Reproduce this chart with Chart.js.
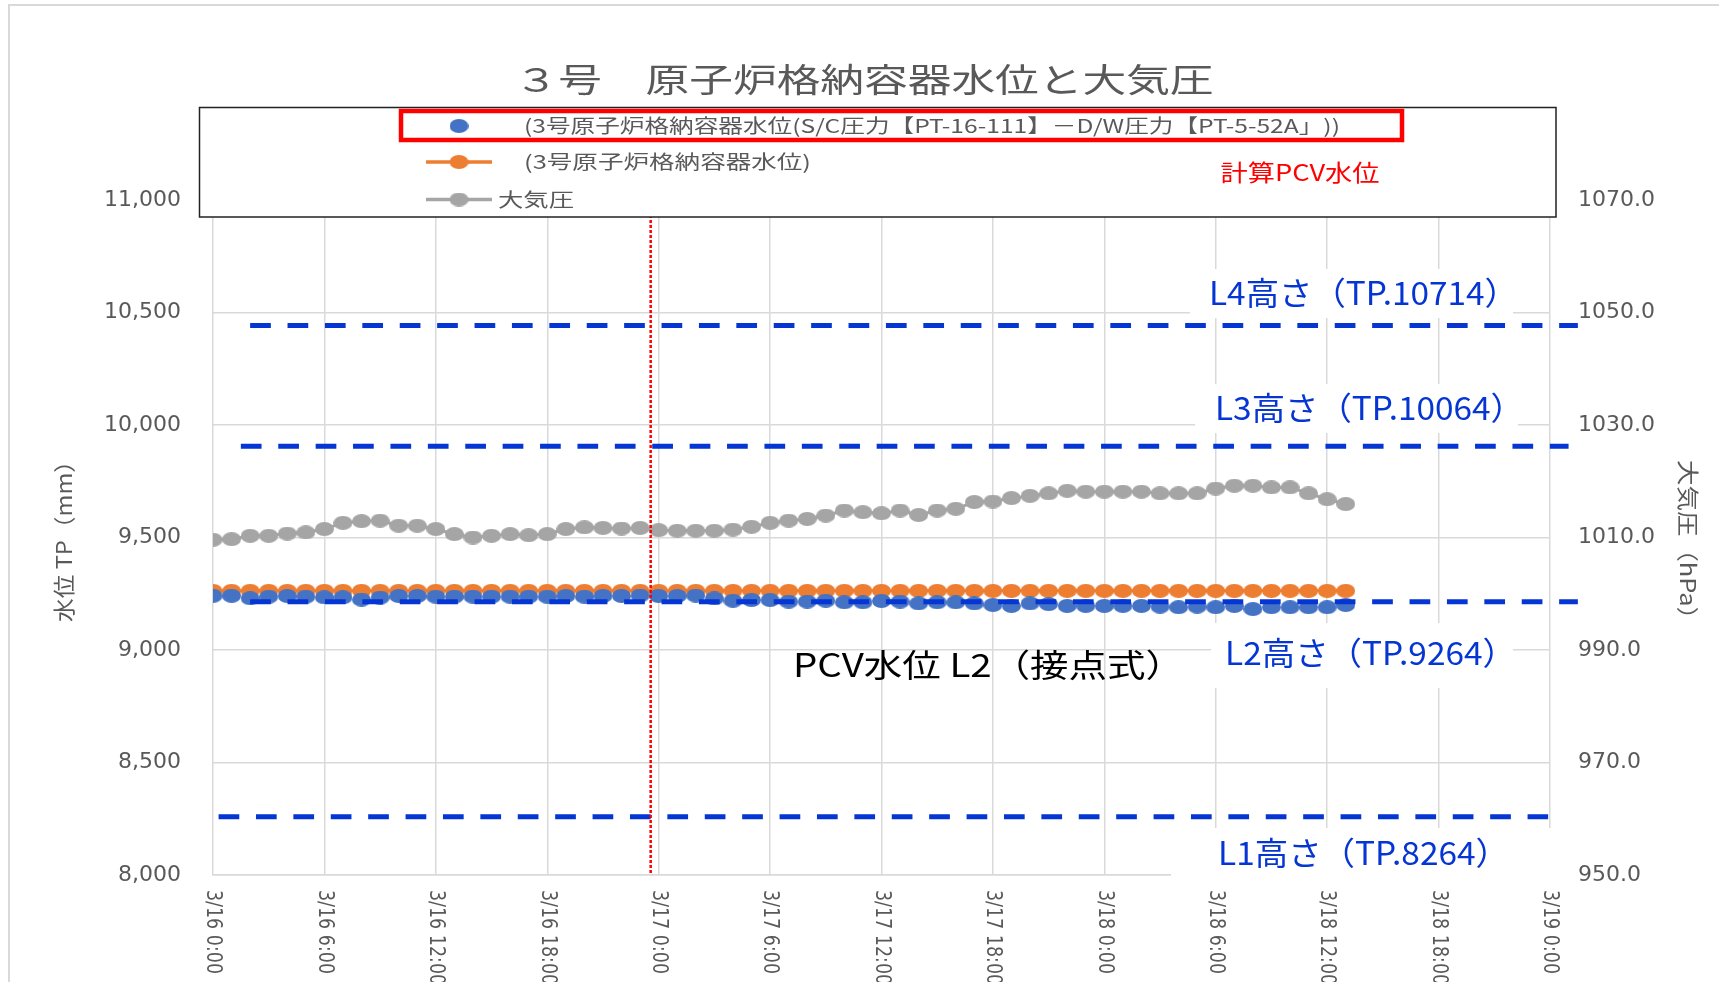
<!DOCTYPE html>
<html>
<head>
<meta charset="utf-8">
<script src="https://cdn.jsdelivr.net/npm/chart.js@4"></script>
<style>
html,body{margin:0;padding:0;background:#fff;}
#wrap{width:1719px;height:982px;position:relative;}
</style>
</head>
<body>
<div id="wrap"><canvas id="c" width="1719" height="982"></canvas></div>
<script>
// ---------- data ----------
const hours = [0,1,2,3,4,5,6,7,8,9,10,11,12,13,14,15,16,17,18,19,20,21,22,23,24,25,26,27,28,29,30,31,32,33,34,35,36,37,38,39,40,41,42,43,44,45,46,47,48,49,50,51,52,53,54,55,56,57,58,59,60,61];
const timeTickLabels = ['3/16 0:00','3/16 6:00','3/16 12:00','3/16 18:00','3/17 0:00','3/17 6:00','3/17 12:00','3/17 18:00','3/18 0:00','3/18 6:00','3/18 12:00','3/18 18:00','3/19 0:00'];
const levelCalc = [9241,9241,9230,9237,9240,9237,9234,9234,9224,9233,9240,9240,9237,9237,9237,9237,9237,9237,9237,9240,9237,9240,9240,9242,9240,9240,9242,9229,9219,9222,9222,9215,9215,9219,9212,9212,9218,9215,9207,9212,9212,9207,9200,9196,9207,9204,9196,9196,9196,9196,9196,9193,9190,9193,9190,9196,9182,9190,9190,9190,9190,9200];
const levelPCV = [9263,9263,9263,9263,9263,9263,9263,9263,9263,9263,9263,9263,9263,9263,9263,9263,9263,9263,9263,9263,9263,9263,9263,9263,9263,9263,9263,9263,9263,9263,9263,9263,9263,9263,9263,9263,9263,9263,9263,9263,9263,9263,9263,9263,9263,9263,9263,9263,9263,9263,9263,9263,9263,9263,9263,9263,9263,9263,9263,9263,9263,9263];
const pressure = [1009.6,1009.7,1010.3,1010.3,1010.7,1010.9,1011.5,1012.6,1012.9,1013.0,1012.1,1012.1,1011.5,1010.6,1010.0,1010.3,1010.6,1010.4,1010.6,1011.5,1011.8,1011.7,1011.6,1011.7,1011.3,1011.2,1011.2,1011.2,1011.4,1011.9,1012.6,1013.0,1013.3,1013.9,1014.8,1014.5,1014.3,1014.8,1014.0,1014.8,1015.1,1016.3,1016.4,1017.0,1017.4,1017.85,1018.3,1018.15,1018.15,1018.15,1018.15,1017.85,1017.85,1017.85,1018.7,1019.2,1019.2,1018.9,1018.9,1017.85,1016.8,1015.95];
// reference level lines (as drawn in the figure) and their labels
const refNames  = ['L4高さ（TP.10714）','L3高さ（TP.10064）','L2高さ（TP.9264）','L1高さ（TP.8264）'];
const refLevels = [10442, 9906, 9214, 8259];
const refStart  = [2.0, 1.5, 2.0, 0.3];
const refEnd    = [73.5, 73.0, 73.5, 71.9];
const markerHour = [23.57];
const seriesNames = ['(3号原子炉格納容器水位(S/C圧力【PT-16-111】－D/W圧力【PT-5-52A」))','(3号原子炉格納容器水位)','大気圧'];

// ---------- styles ----------
const BLUE='#4472C4', ORANGE='#ED7D31', GRAY='#A5A5A5', LBLUE='#0535D2', TXT='#595959', GRID='#D9D9D9';
function ellipse(color,w,h){const c=document.createElement('canvas');c.width=w;c.height=h;const g=c.getContext('2d');g.fillStyle=color;g.beginPath();g.ellipse(w/2,h/2,w/2,h/2,0,0,Math.PI*2);g.fill();return c;}
const dotB=ellipse(BLUE,19,14), dotO=ellipse(ORANGE,19,14), dotG=ellipse(GRAY,19,14);

function pts(ys){return hours.map((h,i)=>({x:h,y:ys[i]}));}

const datasets=[];
datasets.push({label:'marker',data:[{x:markerHour[0],y:11000},{x:markerHour[0],y:8000}],yAxisID:'y',borderColor:'#FF0000',borderWidth:2.5,borderDash:[3,2],pointRadius:0,fill:false,clip:false});
refLevels.forEach((v,i)=>{
  datasets.push({label:refNames[i],data:[{x:refStart[i],y:v},{x:refEnd[i],y:v}],yAxisID:'y',borderColor:LBLUE,borderWidth:5,borderDash:[20.7,16.7],borderCapStyle:'butt',pointRadius:0,fill:false,clip:false});
});
datasets.push({label:seriesNames[0],data:pts(levelCalc),yAxisID:'y',showLine:false,pointStyle:dotB,pointRadius:9,borderColor:BLUE,backgroundColor:BLUE});
datasets.push({label:seriesNames[1],data:pts(levelPCV),yAxisID:'y',showLine:true,borderColor:ORANGE,borderWidth:3,pointStyle:dotO,pointRadius:9,backgroundColor:ORANGE});
datasets.push({label:seriesNames[2],data:pts(pressure),yAxisID:'y2',showLine:true,borderColor:GRAY,borderWidth:3,pointStyle:dotG,pointRadius:9,backgroundColor:GRAY});

function fitText(ctx,text,x,y,w,font,color,align){
  ctx.save();ctx.font=font;ctx.fillStyle=color;ctx.textBaseline='middle';
  const m=ctx.measureText(text).width;const sx=w/m;
  ctx.translate(x,y);ctx.scale(sx,1);ctx.textAlign=align||'center';ctx.fillText(text,0,0);ctx.restore();
}

const JP='"Noto Sans CJK JP"';
// label boxes (white) behind text, positions in canvas px
const labelBoxes=[[1190,269,323,49],[1195,384,323,49],[1211,623,302,65],[1171,828,384,60]];
const labelText=[[1209,293,309],[1215,408,309],[1225,653,291],[1218,853,291]];

const deco={
  id:'deco',
  beforeDatasetsDraw(chart){
    const ctx=chart.ctx;ctx.save();ctx.fillStyle='#fff';
    labelBoxes.forEach(b=>ctx.fillRect(b[0],b[1],b[2],b[3]));
    ctx.restore();
  },
  afterDraw(chart){
    const ctx=chart.ctx, ca=chart.chartArea, xs=chart.scales.x;
    // outer frame
    ctx.save();ctx.strokeStyle='#D9D9D9';ctx.lineWidth=2;
    ctx.beginPath();ctx.moveTo(9,982);ctx.lineTo(9,5);ctx.lineTo(1719,5);ctx.stroke();ctx.restore();
    // x tick labels rotated +90
    ctx.save();ctx.font='22px "DejaVu Sans"';ctx.fillStyle=TXT;ctx.textAlign='left';ctx.textBaseline='middle';
    const sc=84/ctx.measureText('3/16 0:00').width;
    xs.ticks.forEach((t)=>{const px=xs.getPixelForValue(t.value);const lab=timeTickLabels[Math.round(t.value/6)];
      if(!lab)return;ctx.save();ctx.translate(px,ca.bottom+15);ctx.rotate(Math.PI/2);ctx.scale(sc,1);ctx.fillText(lab,0,0);ctx.restore();});
    ctx.restore();
    // axis titles
    ctx.save();ctx.translate(64,622);ctx.rotate(-Math.PI/2);fitText(ctx,'水位 TP（mm）',0,0,173,'22px '+JP,TXT,'left');ctx.restore();
    ctx.save();ctx.translate(1688,460);ctx.rotate(Math.PI/2);fitText(ctx,'大気圧（hPa）',0,0,172,'22px '+JP,TXT,'left');ctx.restore();
    // title
    fitText(ctx,'３号　原子炉格納容器水位と大気圧',864,79,699,'33px '+JP,TXT);
    // legend box
    ctx.save();ctx.fillStyle='#fff';ctx.fillRect(199.5,107.5,1356.5,109.5);
    ctx.strokeStyle='#222';ctx.lineWidth=1.5;ctx.strokeRect(199.5,107.5,1356.5,109.5);ctx.restore();
    // legend entries
    ctx.save();
    ctx.drawImage(dotB,459-9.5,126-7);
    ctx.strokeStyle=ORANGE;ctx.lineWidth=3.5;ctx.beginPath();ctx.moveTo(426,162);ctx.lineTo(492,162);ctx.stroke();
    ctx.drawImage(dotO,459-9.5,162-7);
    ctx.strokeStyle=GRAY;ctx.beginPath();ctx.moveTo(426,199.5);ctx.lineTo(492,199.5);ctx.stroke();
    ctx.drawImage(dotG,459-9.5,199.5-7);
    ctx.restore();
    fitText(ctx,seriesNames[0],524,126,816,'19px '+JP,TXT,'left');
    fitText(ctx,seriesNames[1],524,162,287,'19px '+JP,TXT,'left');
    fitText(ctx,seriesNames[2],498,199.5,76,'19px '+JP,TXT,'left');
    // red highlight box
    ctx.save();ctx.strokeStyle='#FF0000';ctx.lineWidth=4.5;ctx.strokeRect(401,111,1001,29);ctx.restore();
    fitText(ctx,'計算PCV水位',1300,172,159,'23px '+JP,'#FF0000');
    // level labels
    refNames.forEach((n,i)=>{const t=labelText[i];fitText(ctx,n,t[0],t[1],t[2],'32px '+JP,LBLUE,'left');});
    fitText(ctx,'PCV水位 L2（接点式）',793,665,391,'32px '+JP,'#000','left');
  }
};

new Chart(document.getElementById('c'),{
  type:'line',
  data:{datasets},
  options:{
    responsive:false,animation:false,
    layout:{padding:{top:200,left:0,right:0,bottom:0}},
    plugins:{legend:{display:false},title:{display:false},tooltip:{enabled:false}},
    events:[],
    scales:{
      x:{type:'linear',min:0,max:72,
        ticks:{stepSize:6,display:false},
        grid:{color:GRID,lineWidth:1.5,drawTicks:false},
        border:{display:true,color:GRID,width:1.5},
        afterFit(s){s.height=107;}},
      y:{position:'left',min:8000,max:11000,
        ticks:{stepSize:500,padding:32,color:TXT,font:{family:'DejaVu Sans',size:22},callback:v=>v.toLocaleString('en-US')},
        grid:{color:GRID,lineWidth:1.5,drawTicks:false},
        border:{display:false},
        afterFit(s){s.width=213;}},
      y2:{position:'right',min:950,max:1070,
        ticks:{stepSize:20,padding:28,color:TXT,font:{family:'DejaVu Sans',size:22},callback:v=>v.toFixed(1)},
        grid:{display:false,drawTicks:false},
        border:{display:false},
        afterFit(s){s.width=169;}}
    }
  },
  plugins:[deco]
});
</script>
</body>
</html>
